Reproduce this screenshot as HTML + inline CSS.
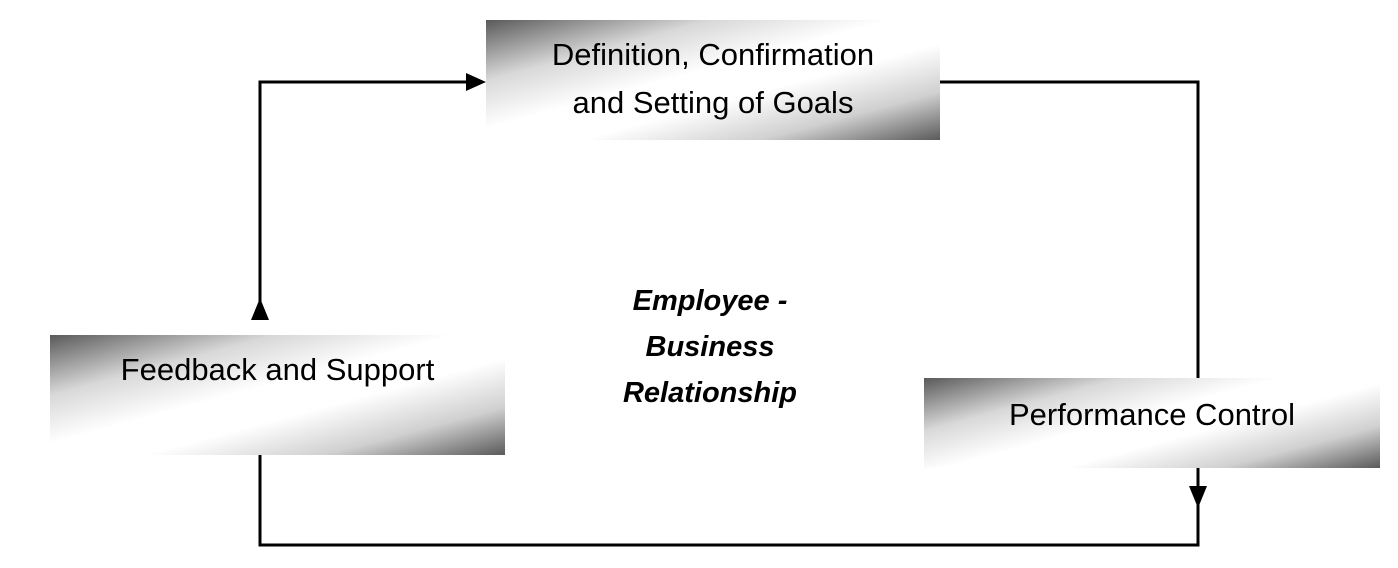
<!DOCTYPE html>
<html><head><style>
body{margin:0;width:1398px;height:568px;background:#fff;position:relative;overflow:hidden;font-family:"Liberation Sans",sans-serif}
.b{position:absolute;background:linear-gradient(165deg,#5a5a5a 0%,#d8d8d8 25%,#fff 45%,#fff 60%,#d0d0d0 80%,#5a5a5a 100%);display:flex;align-items:center;justify-content:center;text-align:center;font-size:31px;line-height:48px;color:#000;box-sizing:border-box}
svg{position:absolute;left:0;top:0}
</style></head><body>
<svg width="1398" height="568">
<g stroke="#000" stroke-width="3" fill="none">
<polyline points="260,320 260,82 470,82"/>
<polyline points="940,82 1198,82 1198,545 260,545 260,455"/>
</g>
<polygon points="486,82 466,73 466,91" fill="#000"/>
<polygon points="260,298 251,320 269,320" fill="#000"/>
<polygon points="1198,508 1189,486 1207,486" fill="#000"/>
</svg>
<div class="b" style="left:486px;top:20px;width:454px;height:120px;padding-bottom:2px">Definition, Confirmation<br>and Setting of Goals</div>
<div class="b" style="left:50px;top:335px;width:455px;height:120px;padding-bottom:50px">Feedback and Support</div>
<div class="b" style="left:924px;top:378px;width:456px;height:90px;padding-bottom:16px">Performance Control</div>
<div style="position:absolute;left:560px;top:278px;width:300px;text-align:center;font-size:29px;line-height:46px;font-weight:bold;font-style:italic">Employee -<br>Business<br>Relationship</div>
</body></html>
